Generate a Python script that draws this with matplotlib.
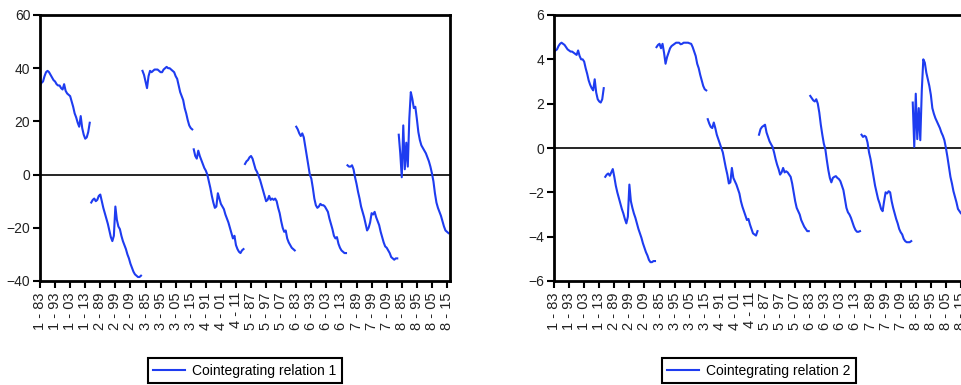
import matplotlib
matplotlib.use("Agg")
import matplotlib.pyplot as plt

plt.rcParams['font.family'] = ['Liberation Sans', 'DejaVu Sans']

# panel: 8 cross-sections, each observed 1983-2016 (34 obs)
n_units = 8
obs_per_unit = 34

tick_labels = ["1 - 83", "1 - 93", "1 - 03", "1 - 13", "2 - 89", "2 - 99", "2 - 09",
               "3 - 85", "3 - 95", "3 - 05", "3 - 15", "4 - 91", "4 - 01", "4 - 11",
               "5 - 87", "5 - 97", "5 - 07", "6 - 83", "6 - 93", "6 - 03", "6 - 13",
               "7 - 89", "7 - 99", "7 - 09", "8 - 85", "8 - 95", "8 - 05", "8 - 15"]
tick_pos = [0, 10, 20, 30, 40, 50, 60, 70, 80, 90, 100, 110, 120, 130,
            140, 150, 160, 170, 180, 190, 200, 210, 220, 230, 240, 250, 260, 270]

# Cointegrating relation 1, one row per cross-section
relation1 = [
    33.5, 34.5, 35, 37, 38.5, 39, 38.5, 37.5, 36.5, 35.5, 35, 34, 33.5, 33.5, 32.5, 32, 34,
    31.5, 30.5, 30, 29.5, 27.5, 25.5, 23, 21.5, 19.5, 18, 22, 17.5, 15, 13.5, 14, 16, 19.5,
    -10.5, -9.5, -9, -10, -9.5, -8, -7.5, -10, -12.5, -14.5, -16.5, -18.5, -21, -23.5, -25, -23, -12,
    -17, -19.5, -20.5, -23, -25, -26.5, -28, -30, -31.5, -33.5, -35, -36.5, -37.5, -38, -38.5, -38.5, -38,
    39, 37.5, 35, 32.5, 37, 39, 38.5, 39, 39.5, 39.5, 39.5, 39, 38.5, 38.5, 39.5, 40, 40.5,
    40, 40, 39.5, 39, 38.5, 37, 36, 33.5, 31, 29.5, 28, 25, 23, 20.5, 18.5, 17.5, 17,
    9.5, 7, 6, 9, 7, 5.5, 4, 2.5, 1.5, 0, -2.5, -5, -8, -10.5, -12.5, -12, -7,
    -9, -11, -12, -13, -15, -16.5, -18, -20, -22, -24, -23, -26.5, -28, -29, -29.5, -28.5, -28,
    4, 5, 5.5, 6.5, 7, 6, 4, 2, 1, -0.5, -2, -4, -6, -8, -10, -9.5, -8,
    -9.5, -9, -9.5, -9, -10, -12.5, -14.5, -17.5, -20, -21.5, -21, -24, -25.5, -26.5, -27.5, -28, -28.5,
    18, 17, 15.5, 14.5, 15.5, 14, 10.5, 7, 3.5, 0, -1.5, -5, -9, -11.5, -12.5, -12, -11,
    -11.5, -11.5, -12, -13, -14, -16.5, -18.5, -20.5, -23, -24, -23.5, -26, -27.5, -28.5, -29, -29.5, -29.5,
    3.5, 3, 3, 3.5, 2, -1, -3.5, -6.5, -9, -12, -14, -16, -18.5, -21, -20, -18, -14.5,
    -15, -14, -16, -17.5, -19, -21.5, -23.5, -25.5, -27, -27.5, -28.5, -29.5, -31, -31.5, -32, -31.5, -31.5,
    15, 8, -1, 18.5, 2, 12, 3, 21, 31, 28.5, 25, 25.5, 21, 16, 13, 11, 10,
    9, 8, 6.5, 5, 3, 0.5, -2.5, -7, -10.5, -12.5, -14, -15.5, -17.5, -19.5, -21, -21.5, -22,
]

# Cointegrating relation 2
relation2 = [
    4.35, 4.4, 4.45, 4.6, 4.7, 4.75, 4.7, 4.65, 4.55, 4.45, 4.4, 4.35, 4.35, 4.3, 4.25, 4.2, 4.4,
    4.15, 4.0, 4.0, 3.9, 3.6, 3.35, 3.05, 2.85, 2.7, 2.6, 3.1, 2.5, 2.2, 2.1, 2.05, 2.2, 2.7,
    -1.3, -1.2, -1.15, -1.25, -1.1, -0.95, -1.3, -1.7, -2.0, -2.25, -2.5, -2.75, -2.95, -3.2, -3.4, -3.1, -1.65,
    -2.4, -2.7, -2.95, -3.15, -3.4, -3.65, -3.85, -4.05, -4.3, -4.5, -4.7, -4.85, -5.05, -5.15, -5.15, -5.1, -5.1,
    4.55, 4.65, 4.7, 4.5, 4.7, 4.3, 3.8, 4.1, 4.3, 4.5, 4.6, 4.65, 4.7, 4.75, 4.75, 4.75, 4.68,
    4.7, 4.75, 4.75, 4.75, 4.75, 4.72, 4.7, 4.55, 4.35, 4.15, 3.8, 3.6, 3.3, 3.05, 2.8, 2.65, 2.6,
    1.3, 1.1, 0.95, 0.9, 1.15, 0.9, 0.6, 0.4, 0.2, 0.0, -0.2, -0.55, -0.9, -1.2, -1.6, -1.55, -0.9,
    -1.35, -1.5, -1.65, -1.85, -2.05, -2.4, -2.65, -2.85, -3.05, -3.25, -3.2, -3.45, -3.65, -3.85, -3.9, -3.95, -3.75,
    0.6, 0.85, 0.95, 1.0, 1.05, 0.7, 0.5, 0.3, 0.17, 0.05, -0.2, -0.5, -0.75, -0.95, -1.2, -1.1, -0.9,
    -1.1, -1.05, -1.1, -1.2, -1.3, -1.6, -2.0, -2.4, -2.7, -2.85, -3.0, -3.25, -3.4, -3.55, -3.65, -3.75, -3.75,
    2.35, 2.25, 2.15, 2.1, 2.2, 2.0, 1.6, 1.05, 0.6, 0.2, -0.05, -0.55, -1.0, -1.35, -1.55, -1.35, -1.3,
    -1.27, -1.35, -1.4, -1.5, -1.7, -1.9, -2.3, -2.7, -2.9, -3.0, -3.15, -3.35, -3.55, -3.7, -3.78, -3.78, -3.75,
    0.6, 0.5, 0.55, 0.5, 0.25, -0.2, -0.5, -0.9, -1.3, -1.7, -2.0, -2.3, -2.5, -2.75, -2.85, -2.4, -2.0,
    -2.05, -1.95, -2.0, -2.4, -2.7, -2.95, -3.2, -3.4, -3.65, -3.8, -3.9, -4.1, -4.2, -4.25, -4.25, -4.25, -4.2,
    2.05, 0.05, 2.45, 0.4, 1.8, 0.35, 2.6, 4.0, 3.85, 3.4, 3.1, 2.8, 2.4, 1.8, 1.55, 1.35, 1.2,
    1.05, 0.9, 0.7, 0.55, 0.35, 0.0, -0.4, -0.85, -1.3, -1.6, -1.95, -2.2, -2.45, -2.75, -2.85, -2.95, -3.0,
]

legend_labels = ["Cointegrating relation 1", "Cointegrating relation 2"]
y_ranges = [(-40, 60, 20), (-6, 6, 2)]

line_color = '#1e3cf0'

fig = plt.figure(figsize=(9.62, 3.85), dpi=100)
ax1 = fig.add_axes([40 / 962, 1 - 281 / 385, 410 / 962, 266 / 385])
ax2 = fig.add_axes([554 / 962, 1 - 281 / 385, 410 / 962, 266 / 385])

for ax, series, label, (lo, hi, step) in zip([ax1, ax2], [relation1, relation2],
                                             legend_labels, y_ranges):
    handle = None
    # each cross-section drawn as its own segment (gaps between units)
    for u in range(n_units):
        start = u * obs_per_unit
        xs = list(range(start, start + obs_per_unit))
        ys = series[start:start + obs_per_unit]
        handle, = ax.plot(xs, ys, color=line_color, lw=1.5)
    ax.axhline(0, color='black', lw=1.2, zorder=1)

    ax.set_xlim(0, 272)
    ax.set_ylim(lo, hi)
    ax.set_yticks(list(range(lo, hi + 1, step)))
    ax.set_xticks(tick_pos)
    ax.set_xticklabels(tick_labels, rotation=90)
    ax.tick_params(direction='out', length=5, width=1.5, labelsize=10, pad=2,
                   colors='black', labelcolor='#222222')
    ax.tick_params(axis='x', labelsize=10.5, pad=3)
    for sp in ax.spines.values():
        sp.set_linewidth(2)

    leg = ax.legend([handle], [label], loc='upper center', bbox_to_anchor=(0.5, -0.29),
                    borderaxespad=0, fancybox=False, edgecolor='black', framealpha=1,
                    fontsize=10, handlelength=2.3, borderpad=0.4, handletextpad=0.5)
    leg.get_frame().set_linewidth(1.5)

fig.savefig('out.png', dpi=100)
